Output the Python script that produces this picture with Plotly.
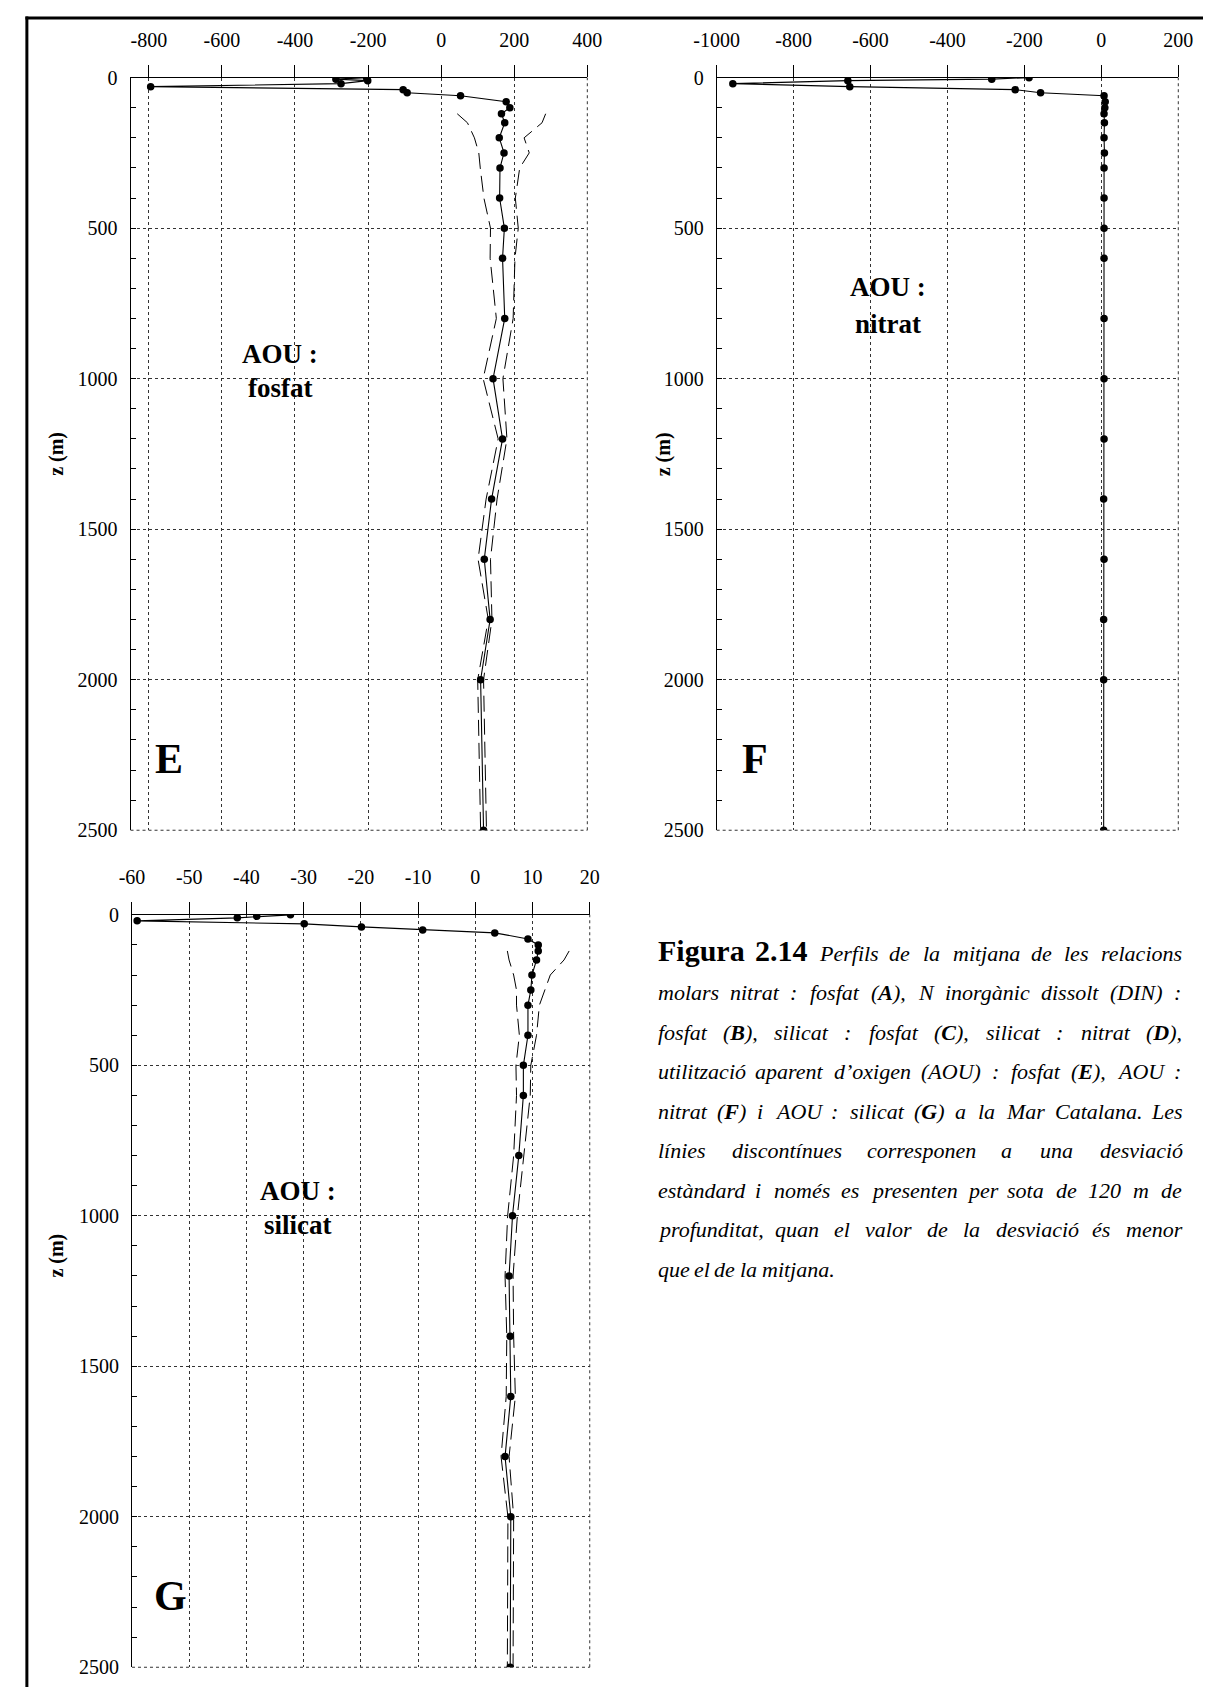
import plotly.graph_objects as go

SERIF = "Liberation Serif, Times New Roman, serif"
W, H = 1218, 1698

# sampling depths (m)
depth = [0, 5, 10, 20, 30, 40, 50, 60, 80, 100, 120, 150, 200, 250, 300,
         400, 500, 600, 800, 1000, 1200, 1400, 1600, 1800, 2000, 2500]
# depths where the standard deviation is shown (below 120 m)
sd_depth = [120, 150, 200, 250, 300, 400, 500, 600, 800, 1000,
            1200, 1400, 1600, 1800, 2000, 2500]

# E: AOU : fosfat
aou_fosfat = [-204, -288, -201, -274, -795, -104, -93, 53, 178, 188, 165, 174, 159,
              172, 161, 160, 173, 168, 174, 142, 168, 138, 118, 134, 108, 116]
aou_fosfat_sd = [121, 102, 68, 69, 54, 43, 38, 34, 23, 27, 12, 15, 17, 5, 8, 8]

# F: AOU : nitrat
aou_nitrat = [-188, -285, -659, -958, -654, -224, -158, 7, 10, 9, 7, 8, 7,
              8, 7, 7, 7, 7, 7, 7, 7, 6, 7, 6, 6, 6]

# G: AOU : silicat
aou_silicat = [-32.3, -38.2, -41.6, -59.1, -29.9, -19.9, -9.2, 3.4, 9.2, 11.0, 11.0,
               10.7, 9.9, 9.7, 9.2, 9.2, 8.4, 8.4, 7.6, 6.5, 5.9, 6.1, 6.2, 5.2, 6.2, 6.1]
aou_silicat_sd = [5.4, 4.8, 3.2, 2.5, 2.0, 1.5, 1.3, 1.2, 0.9, 0.85, 0.7, 0.6,
                  0.8, 0.7, 0.5, 0.5]

# tick values and labels
e_ticks = [-800, -600, -400, -200, 0, 200, 400]
e_ticktext = ["-800", "-600", "-400", "-200", "0", "200", "400"]
f_ticks = [-1000, -800, -600, -400, -200, 0, 200]
f_ticktext = ["-1000", "-800", "-600", "-400", "-200", "0", "200"]
g_ticks = [-60, -50, -40, -30, -20, -10, 0, 10, 20]
g_ticktext = ["-60", "-50", "-40", "-30", "-20", "-10", "0", "10", "20"]
z_ticks = [0, 500, 1000, 1500, 2000, 2500]
z_ticktext = ["0", "500", "1000", "1500", "2000", "2500"]


def px_x(p):
    return p / W


def px_y(p):
    return 1 - p / H


panels = [
    dict(mean=aou_fosfat, sd=aou_fosfat_sd, xr=[-850, 400], tv=e_ticks, tt=e_ticktext,
         box=(111, 582.5, 67.5, 830), letter="E", words=("AOU :", "fosfat"),
         lx=-440, ly=(917, 1031), zx=35, zy=0.5),
    dict(mean=aou_nitrat, sd=None, xr=[-1000, 200], tv=f_ticks, tt=f_ticktext,
         box=(716, 1192.5, 67.5, 830), letter="F", words=("AOU :", "nitrat"),
         lx=-554, ly=(697, 818), zx=662, zy=0.5),
    dict(mean=aou_silicat, sd=aou_silicat_sd, xr=[-60, 20], tv=g_ticks, tt=g_ticktext,
         box=(112.5, 585, 915.7, 1678), letter="G", words=("AOU :", "silicat"),
         lx=-31, ly=(917, 1031), zx=35, zy=0.547),
]

fig = go.Figure()
layout = dict(
    width=W, height=H, margin=dict(l=0, r=0, t=0, b=0, pad=0),
    paper_bgcolor="white", plot_bgcolor="white", showlegend=False,
    font=dict(family=SERIF, color="black", size=20),
)
annotations = []
shapes = []
start = depth.index(sd_depth[0])

for i, p in enumerate(panels, start=1):
    sx = "" if i == 1 else str(i)
    xa, ya = "x" + sx, "y" + sx
    x0, x1, y0, y1 = p["box"]

    if p["sd"] is not None:
        m = p["mean"][start:]
        for sign in (-1, 1):
            fig.add_trace(go.Scatter(
                x=[a + sign * s for a, s in zip(m, p["sd"])], y=sd_depth,
                mode="lines", line=dict(color="black", width=1, dash="16px,7px"),
                xaxis=xa, yaxis=ya, hoverinfo="skip"))
    fig.add_trace(go.Scatter(
        x=p["mean"], y=depth, mode="lines+markers",
        line=dict(color="black", width=1.1),
        marker=dict(color="black", size=7.5),
        xaxis=xa, yaxis=ya))

    layout["xaxis" + sx] = dict(
        domain=[px_x(x0), px_x(x1)], anchor=ya, side="top", range=p["xr"],
        tickmode="array", tickvals=p["tv"], ticktext=p["tt"],
        ticks="outside", ticklen=12, tickwidth=1, tickcolor="black",
        showline=True, linecolor="black", linewidth=1,
        showgrid=True, gridcolor="#333", gridwidth=1, griddash="3px,3px",
        zeroline=False, ticklabelstandoff=10,
        tickfont=dict(family=SERIF, size=20, color="black"),
    )
    layout["yaxis" + sx] = dict(
        domain=[px_y(y1), px_y(y0)], anchor=xa, range=[2500, 0],
        tickmode="array", tickvals=z_ticks, ticktext=z_ticktext,
        ticks="inside", ticklen=5, tickwidth=1, tickcolor="black",
        minor=dict(dtick=100, tick0=0, ticks="inside", ticklen=5,
                   tickcolor="black", showgrid=False),
        showline=True, linecolor="black", linewidth=1,
        showgrid=True, gridcolor="#333", gridwidth=1, griddash="3px,3px",
        zeroline=False, ticklabelstandoff=8,
        tickfont=dict(family=SERIF, size=20, color="black"),
    )

    # dashed right and bottom edges of the frame
    shapes.append(dict(type="line", xref=xa + " domain", yref=ya + " domain",
                       x0=1, x1=1, y0=0, y1=1,
                       line=dict(color="#333", width=1, dash="3px,3px")))
    shapes.append(dict(type="line", xref=xa + " domain", yref=ya + " domain",
                       x0=0, x1=1, y0=0, y1=0,
                       line=dict(color="#333", width=1, dash="3px,3px")))

    # depth axis title
    annotations.append(dict(
        text="<b>z (m)</b>", xref="paper", yref=ya + " domain",
        x=px_x(p["zx"]), y=p["zy"], xanchor="center", yanchor="middle",
        textangle=-90, showarrow=False,
        font=dict(family=SERIF, size=20, color="black")))

    annotations.append(dict(
        text="<b>%s</b>" % p["letter"], xref=xa + " domain", yref=ya + " domain",
        x=40 / (x1 - x0), y=72 / (y1 - y0), xanchor="center", yanchor="middle",
        showarrow=False, font=dict(family=SERIF, size=42, color="black")))
    for word, yy in zip(p["words"], p["ly"]):
        annotations.append(dict(
            text="<b>%s</b>" % word, xref=xa, yref=ya, x=p["lx"], y=yy,
            xanchor="center", yanchor="middle", showarrow=False,
            font=dict(family=SERIF, size=27, color="black")))

# page frame (top and left rules)
shapes.append(dict(type="line", xref="paper", yref="paper",
                   x0=px_x(2.5), x1=1, y0=px_y(7), y1=px_y(7),
                   line=dict(color="black", width=3)))
shapes.append(dict(type="line", xref="paper", yref="paper",
                   x0=px_x(4), x1=px_x(4), y0=px_y(5.5), y1=0,
                   line=dict(color="black", width=3)))

# ---- caption, fully justified word by word ----
CAP_LEFT, CAP_RIGHT = 655, 1195
CAP_BASE, CAP_STEP = 962, 40
IT_SIZE, HEAD_SIZE = 22, 30

caption_lines = [
    "#Figura #2.14 Perfils de la mitjana de les relacions",
    "molars nitrat : fosfat (*A*), N inorgànic dissolt (DIN) :",
    "fosfat (*B*), silicat : fosfat (*C*), silicat : nitrat (*D*),",
    "utilització aparent d’oxigen (AOU) : fosfat (*E*), AOU :",
    "nitrat (*F*) i AOU : silicat (*G*) a la Mar Catalana. Les",
    "línies discontínues corresponen a una desviació",
    "estàndard i només es presenten per sota de 120 m de",
    "profunditat, quan el valor de la desviació és menor",
    "que el de la mitjana.",
]

# Times-style advance widths (1/1000 em)
IT = dict(zip("abcdefghijklmnopqrstuvwxyz",
              [500, 500, 444, 500, 444, 278, 500, 500, 278, 278, 444, 278, 722,
               500, 500, 500, 500, 389, 389, 278, 500, 444, 667, 444, 444, 389]))
IT.update({"A": 611, "B": 611, "C": 667, "D": 722, "E": 611, "F": 611, "G": 722,
           "I": 333, "L": 556, "M": 833, "N": 667, "O": 722, "P": 611, "U": 722,
           "à": 500, "è": 444, "é": 444, "í": 278, "ó": 500, "ò": 500,
           "(": 333, ")": 333, ":": 333, ",": 250, ".": 250, "’": 333, " ": 250})
BI = {"A": 667, "B": 667, "C": 667, "D": 722, "E": 667, "F": 667, "G": 722}
BD = {"F": 611, "i": 278, "g": 500, "u": 556, "r": 444, "a": 500, ".": 250}
for d in "0123456789":
    IT[d] = BD[d] = 500


def parts(word):
    return [(t, k % 2 == 1) for k, t in enumerate(word.split("*")) if t]


def word_width(word):
    if word.startswith("#"):
        return sum(BD.get(c, 500) for c in word[1:]) * HEAD_SIZE / 1000
    w = 0
    for t, bold in parts(word):
        w += sum((BI if bold else IT).get(c, IT.get(c, 500)) for c in t)
    return w * IT_SIZE / 1000


def word_html(word):
    if word.startswith("#"):
        return "<b>%s</b>" % word[1:]
    return "<i>%s</i>" % "".join("<b>%s</b>" % t if b else t for t, b in parts(word))


for n, line in enumerate(caption_lines):
    words = line.split(" ")
    widths = [word_width(w) for w in words]
    last = n == len(caption_lines) - 1
    if last or len(words) < 2:
        gap = 0.25 * IT_SIZE
    else:
        gap = (CAP_RIGHT - CAP_LEFT - sum(widths)) / (len(words) - 1)
    base = CAP_BASE + n * CAP_STEP
    x = CAP_LEFT
    for w, wd in zip(words, widths):
        size = HEAD_SIZE if w.startswith("#") else IT_SIZE
        annotations.append(dict(
            text=word_html(w), xref="paper", yref="paper",
            x=px_x(x), y=px_y(base - 0.3375 * size),
            xanchor="left", yanchor="middle", showarrow=False,
            borderpad=0, borderwidth=0,
            font=dict(family=SERIF, size=size, color="black")))
        x += wd + gap

layout["annotations"] = annotations
layout["shapes"] = shapes
fig.update_layout(**layout)

# the page body gets no margin so the figure fills the window exactly
fig.write_html(
    "out.html",
    post_script="document.body.style.margin='0';"
                "document.body.style.overflow='hidden';"
                "document.documentElement.style.overflow='hidden';")
